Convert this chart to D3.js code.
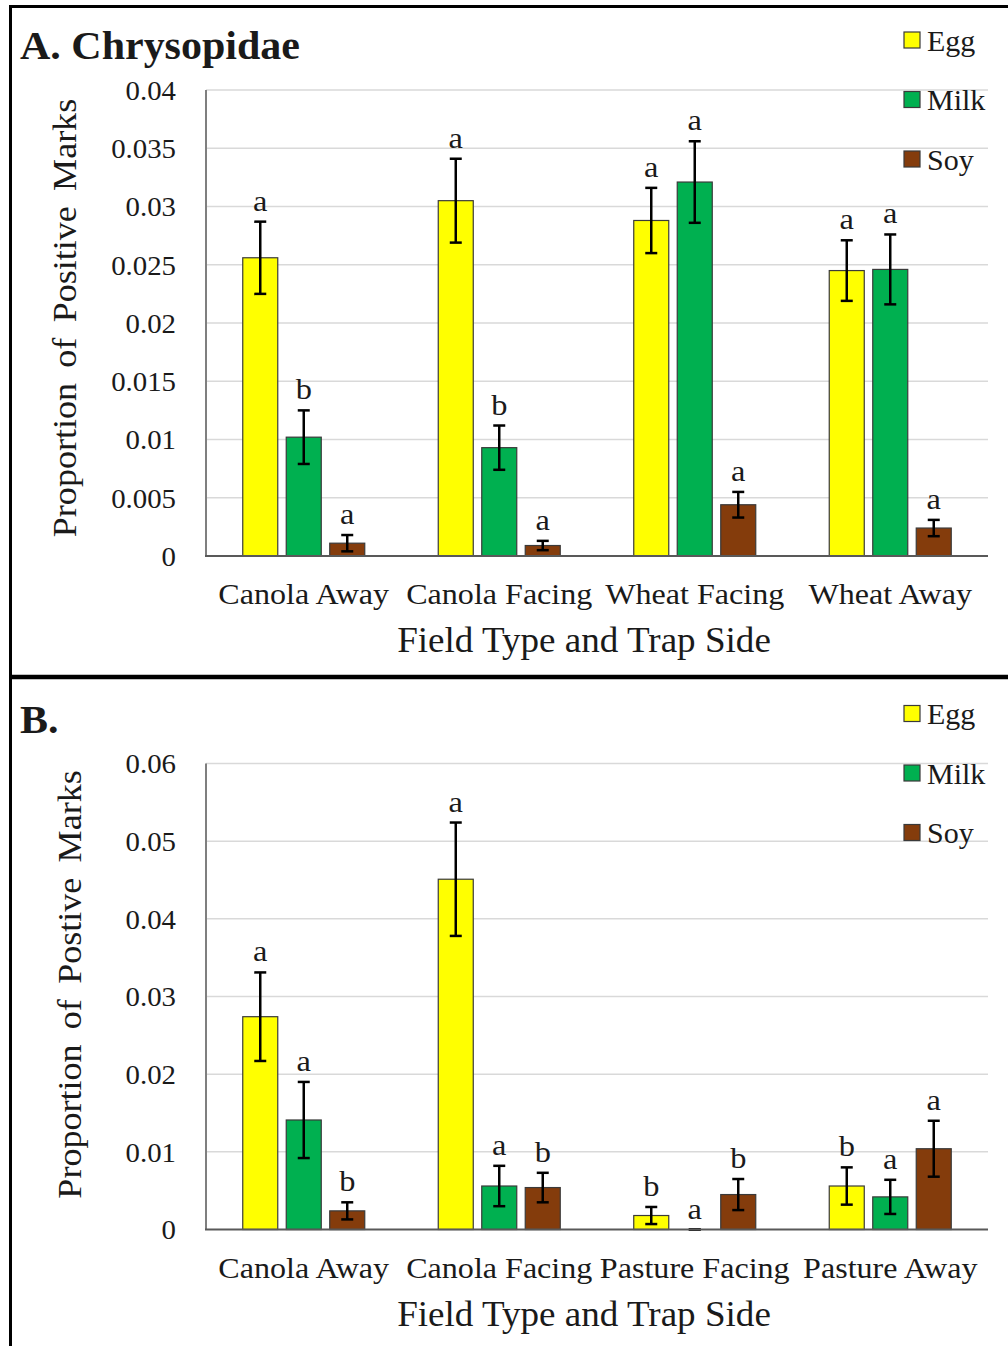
<!DOCTYPE html>
<html>
<head>
<meta charset="utf-8">
<script src="https://cdn.jsdelivr.net/npm/d3@7"></script>
<style>
  body { margin: 0; background: #fff; }
  text { font-family: "Liberation Serif", "Times New Roman", serif; fill: #1a1a1a; }
</style>
</head>
<body>
<div id="viz-container"></div>
<script>
// Series names and colours
const seriesNames = ["Egg", "Milk", "Soy"];
const seriesColors = ["#ffff00", "#00b050", "#843c0c"];

// Panel A - Chrysopidae
const catsA = ["Canola Away", "Canola Facing", "Wheat Facing", "Wheat Away"];
const eggA = [0.0256, 0.0305, 0.0288, 0.0245];
const milkA = [0.0102, 0.0093, 0.0321, 0.0246];
const soyA = [0.0011, 0.0009, 0.0044, 0.0024];
const eggErrA = [0.0031, 0.0036, 0.0028, 0.0026];
const milkErrA = [0.0023, 0.0019, 0.0035, 0.0030];
const soyErrA = [0.0007, 0.0004, 0.0011, 0.0007];
const eggLetA = ["a", "a", "a", "a"];
const milkLetA = ["b", "b", "a", "a"];
const soyLetA = ["a", "a", "a", "a"];
const ticksA = [0, 0.005, 0.01, 0.015, 0.02, 0.025, 0.03, 0.035, 0.04];

// Panel B
const catsB = ["Canola Away", "Canola Facing", "Pasture Facing", "Pasture Away"];
const eggB = [0.0274, 0.0451, 0.0018, 0.0056];
const milkB = [0.0141, 0.0056, 0, 0.0042];
const soyB = [0.0024, 0.0054, 0.0045, 0.0104];
const eggErrB = [0.0057, 0.0073, 0.0011, 0.0024];
const milkErrB = [0.0049, 0.0026, 0, 0.0022];
const soyErrB = [0.0011, 0.0019, 0.0020, 0.0036];
const eggLetB = ["a", "a", "b", "b"];
const milkLetB = ["a", "a", "a", "a"];
const soyLetB = ["b", "b", "b", "a"];
const ticksB = [0, 0.01, 0.02, 0.03, 0.04, 0.05, 0.06];

const W = 1008, H = 1346;

const svg = d3.select('#viz-container').append('svg')
    .attr('width', W).attr('height', H);
svg.append('rect').attr('width', W).attr('height', H).attr('fill', '#fff');

// text in the original is a bit wider than the font, so stretch it horizontally
function stretch(x, y, sx, rot) {
    return 'translate(' + x + ',' + y + ')' + (rot ? ' rotate(' + rot + ')' : '') + ' scale(' + sx + ',1)';
}

function drawPanel({
    top,
    title,
    cats,
    values,     // [egg, milk, soy]
    errors,
    letters,
    ticks,
    yMax,
    yTitle
} = {}) {
    const g = svg.append('g').attr('transform', 'translate(0,' + top + ')');
    const x0 = d3.scaleBand().domain(cats).range([206, 988]);
    const x1 = d3.scaleBand().domain(seriesNames).range([0, x0.bandwidth()])
        .paddingInner(0.195).paddingOuter(0.845);
    const y = d3.scaleLinear().domain([0, yMax]).range([556, 90]);

    // gridlines
    g.append('g').selectAll('line')
        .data(ticks.slice(1))
        .enter().append('line')
        .attr('x1', 206).attr('x2', 988)
        .attr('y1', d => y(d)).attr('y2', d => y(d))
        .attr('stroke', '#d9d9d9').attr('stroke-width', 1.5);

    // tick labels
    const fmt = d => d === 0 ? '0' : String(+d.toFixed(3));
    g.append('g').selectAll('text')
        .data(ticks)
        .enter().append('text')
        .attr('transform', d => stretch(176, y(d), 1.03))
        .attr('dy', '0.35em')
        .attr('text-anchor', 'end')
        .style('font-size', '28px')
        .text(fmt);

    // bars
    seriesNames.forEach((s, si) => {
        const rows = cats.map((c, i) => ({
            cat: c, v: values[si][i], e: errors[si][i], l: letters[si][i]
        }));
        const sg = g.append('g').attr('class', 'series-' + s);
        sg.selectAll('rect')
            .data(rows.filter(d => d.v > 0))
            .enter().append('rect')
            .attr('x', d => x0(d.cat) + x1(s))
            .attr('width', x1.bandwidth())
            .attr('y', d => y(d.v))
            .attr('height', d => y(0) - y(d.v))
            .attr('fill', seriesColors[si])
            .attr('stroke', '#3a3a3a').attr('stroke-width', 1.2);

        // error bars
        const eb = sg.selectAll('g.err')
            .data(rows)
            .enter().append('g').attr('class', 'err')
            .attr('transform', d => 'translate(' + (x0(d.cat) + x1(s) + x1.bandwidth() / 2) + ',0)');
        eb.append('line')
            .attr('x1', 0).attr('x2', 0)
            .attr('y1', d => y(d.v - d.e)).attr('y2', d => y(d.v + d.e))
            .attr('stroke', '#000').attr('stroke-width', 2.5);
        [-1, 1].forEach(sign => {
            eb.append('line')
                .attr('x1', -6).attr('x2', 6)
                .attr('y1', d => y(d.v + sign * d.e)).attr('y2', d => y(d.v + sign * d.e))
                .attr('stroke', '#000').attr('stroke-width', 2.5);
        });
        eb.append('text')
            .attr('transform', d => stretch(0, y(d.v + d.e) - 11, 1.08))
            .attr('text-anchor', 'middle')
            .style('font-size', '30px')
            .text(d => d.l);
    });

    // axes lines
    g.append('line').attr('x1', 206).attr('x2', 206).attr('y1', 90).attr('y2', 556)
        .attr('stroke', '#7f7f7f').attr('stroke-width', 2);
    g.append('line').attr('x1', 205).attr('x2', 988).attr('y1', 556).attr('y2', 556)
        .attr('stroke', '#595959').attr('stroke-width', 2);

    // category labels
    g.append('g').selectAll('text')
        .data(cats)
        .enter().append('text')
        .attr('transform', d => stretch(x0(d) + x0.bandwidth() / 2, 604, 1.07))
        .attr('text-anchor', 'middle')
        .style('font-size', '30px')
        .text(d => d);

    g.append('text')
        .attr('transform', stretch(584, 652, 1.06))
        .attr('text-anchor', 'middle')
        .style('font-size', '35px')
        .text('Field Type and Trap Side');

    g.append('text')
        .attr('transform', stretch(yTitle.x, yTitle.y, 1.06, -90))
        .attr('text-anchor', 'middle')
        .style('font-size', '34px')
        .style('word-spacing', '6px')
        .text(yTitle.text);

    // panel title
    g.append('text')
        .attr('transform', stretch(20, 59, 1.05))
        .style('font-size', '40px').style('font-weight', 'bold')
        .text(title);

    // legend
    const lg = g.append('g').selectAll('g')
        .data(seriesNames)
        .enter().append('g')
        .attr('transform', (d, i) => 'translate(904,' + (40 + i * 59.5) + ')');
    lg.append('rect')
        .attr('x', 0).attr('y', -8).attr('width', 16).attr('height', 16)
        .attr('fill', (d, i) => seriesColors[i])
        .attr('stroke', '#3a3a3a').attr('stroke-width', 1.2);
    lg.append('text')
        .attr('x', 23).attr('y', 0).attr('dy', '0.35em')
        .style('font-size', '30px')
        .text(d => d);
}

drawPanel({
    top: 0,
    title: 'A. Chrysopidae',
    cats: catsA,
    values: [eggA, milkA, soyA],
    errors: [eggErrA, milkErrA, soyErrA],
    letters: [eggLetA, milkLetA, soyLetA],
    ticks: ticksA,
    yMax: 0.04,
    yTitle: { x: 76, y: 318, text: 'Proportion of Positive Marks' }
});

drawPanel({
    top: 673.5,
    title: 'B.',
    cats: catsB,
    values: [eggB, milkB, soyB],
    errors: [eggErrB, milkErrB, soyErrB],
    letters: [eggLetB, milkLetB, soyLetB],
    ticks: ticksB,
    yMax: 0.06,
    yTitle: { x: 81, y: 311, text: 'Proportion of Postive Marks' }
});

// frame
svg.append('line').attr('x1', 10).attr('x2', W).attr('y1', 6.5).attr('y2', 6.5)
    .attr('stroke', '#000').attr('stroke-width', 3);
svg.append('line').attr('x1', 10.5).attr('x2', 10.5).attr('y1', 5).attr('y2', H)
    .attr('stroke', '#000').attr('stroke-width', 3);
svg.append('line').attr('x1', 9).attr('x2', W).attr('y1', 677).attr('y2', 677)
    .attr('stroke', '#000').attr('stroke-width', 4.5);
</script>
</body>
</html>
